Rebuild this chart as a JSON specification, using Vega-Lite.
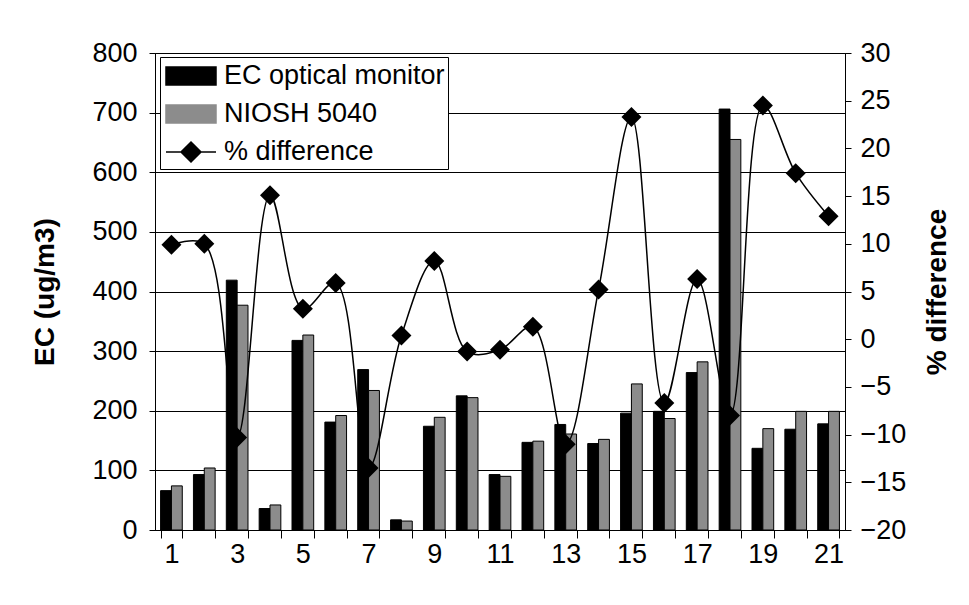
{
  "$schema": "https://vega.github.io/schema/vega-lite/v6.json",
  "width": 690,
  "height": 477,
  "autosize": {"type": "none"},
  "padding": {"left": 155, "top": 53, "right": 124, "bottom": 75},
  "background": "white",
  "config": {
    "font": "Liberation Sans",
    "view": {"stroke": "black", "strokeWidth": 1},
    "axis": {
      "labelFont": "Liberation Sans", "labelFontSize": 27, "labelColor": "black",
      "titleFont": "Liberation Sans", "titleFontSize": 28, "titleFontWeight": "bold", "titleColor": "black",
      "domainColor": "black", "domainWidth": 1, "tickColor": "black", "tickWidth": 1
    }
  },
  "data": {
    "values": [
      {"sample": 1, "ec": 66, "niosh": 74, "pct": 9.9},
      {"sample": 2, "ec": 93, "niosh": 104, "pct": 10.0},
      {"sample": 3, "ec": 419, "niosh": 377, "pct": -10.3},
      {"sample": 4, "ec": 36, "niosh": 42, "pct": 15.1},
      {"sample": 5, "ec": 318, "niosh": 327, "pct": 3.2},
      {"sample": 6, "ec": 181, "niosh": 192, "pct": 5.9},
      {"sample": 7, "ec": 269, "niosh": 234, "pct": -13.5},
      {"sample": 8, "ec": 17, "niosh": 15, "pct": 0.4},
      {"sample": 9, "ec": 174, "niosh": 189, "pct": 8.2},
      {"sample": 10, "ec": 225, "niosh": 222, "pct": -1.3},
      {"sample": 11, "ec": 93, "niosh": 90, "pct": -1.1},
      {"sample": 12, "ec": 147, "niosh": 149, "pct": 1.3},
      {"sample": 13, "ec": 177, "niosh": 161, "pct": -11.0},
      {"sample": 14, "ec": 145, "niosh": 152, "pct": 5.2},
      {"sample": 15, "ec": 196, "niosh": 245, "pct": 23.3},
      {"sample": 16, "ec": 199, "niosh": 187, "pct": -6.7},
      {"sample": 17, "ec": 264, "niosh": 282, "pct": 6.3},
      {"sample": 18, "ec": 706, "niosh": 655, "pct": -8.0},
      {"sample": 19, "ec": 137, "niosh": 170, "pct": 24.5},
      {"sample": 20, "ec": 169, "niosh": 199, "pct": 17.4},
      {"sample": 21, "ec": 178, "niosh": 199, "pct": 12.9}
    ]
  },
  "layer": [
    {
      "transform": [{"fold": ["ec", "niosh"], "as": ["series", "value"]}],
      "mark": {"type": "bar", "stroke": "black", "strokeWidth": 1},
      "encoding": {
        "x": {
          "field": "sample", "type": "ordinal",
          "scale": {"paddingInner": 0.34, "paddingOuter": 0.17},
          "axis": {
            "title": null, "labelAngle": 0, "labelOverlap": false,
            "labelExpr": "datum.value % 2 == 1 ? datum.label : ''",
            "tickBand": "extent", "tickSize": 8, "labelPadding": 3, "grid": false
          }
        },
        "xOffset": {
          "field": "series", "type": "nominal",
          "scale": {"domain": ["ec", "niosh"], "paddingInner": 0, "paddingOuter": 0}
        },
        "y": {
          "field": "value", "type": "quantitative",
          "scale": {"domain": [0, 800], "nice": false},
          "axis": {
            "title": "EC (ug/m3)", "values": [0, 100, 200, 300, 400, 500, 600, 700, 800],
            "grid": true, "gridColor": "black", "gridWidth": 1,
            "tickSize": 6, "labelPadding": 12, "titlePadding": 32
          }
        },
        "color": {
          "field": "series", "type": "nominal",
          "scale": {"domain": ["ec", "niosh", "pct"], "range": ["black", "#8c8c8c", "black"]},
          "legend": {
            "title": null, "orient": "none", "legendX": 5, "legendY": 4, "direction": "vertical",
            "labelExpr": "datum.value == 'ec' ? 'EC optical monitor' : datum.value == 'niosh' ? 'NIOSH 5040' : '% difference'",
            "labelFont": "Liberation Sans", "labelFontSize": 27, "labelColor": "black", "labelLimit": 500,
            "symbolSize": 900, "symbolStrokeWidth": 1.5, "symbolStrokeColor": "black",
            "symbolOffset": 12, "labelOffset": 17,
            "strokeColor": "black", "fillColor": "white", "padding": 3, "rowPadding": 9,
            "cornerRadius": 0,
            "encode": {
              "symbols": {
                "update": {
                  "shape": {"signal": "datum.value === 'pct' ? 'M-1.667,0L1.667,0M0,-0.667L0.667,0L0,0.667L-0.667,0Z' : 'M-1.667,-0.6L1.667,-0.6L1.667,0.6L-1.667,0.6Z'"},
                  "fill": {"signal": "datum.value === 'niosh' ? '#8c8c8c' : 'black'"},
                  "stroke": {"value": "black"},
                  "strokeWidth": {"value": 1.5},
                  "opacity": {"value": 1}
                }
              }
            }
          }
        }
      }
    },
    {
      "layer": [
        {
          "mark": {"type": "line", "interpolate": "catmull-rom", "strokeWidth": 1.5},
          "encoding": {
            "x": {"field": "sample", "type": "ordinal"},
            "y": {
              "field": "pct", "type": "quantitative",
              "scale": {"domain": [-20, 30], "nice": false},
              "axis": {
                "orient": "right", "title": "% difference",
                "values": [-20, -15, -10, -5, 0, 5, 10, 15, 20, 25, 30],
                "grid": false, "tickSize": 6, "labelPadding": 9, "titlePadding": 46, "titleAngle": 270
              }
            },
            "color": {"datum": "pct", "type": "nominal"}
          }
        },
        {
          "mark": {"type": "point", "shape": "diamond", "filled": true, "size": 400, "color": "black", "opacity": 1},
          "encoding": {
            "x": {"field": "sample", "type": "ordinal"},
            "y": {"field": "pct", "type": "quantitative"}
          }
        }
      ]
    }
  ],
  "resolve": {"scale": {"y": "independent"}}
}
